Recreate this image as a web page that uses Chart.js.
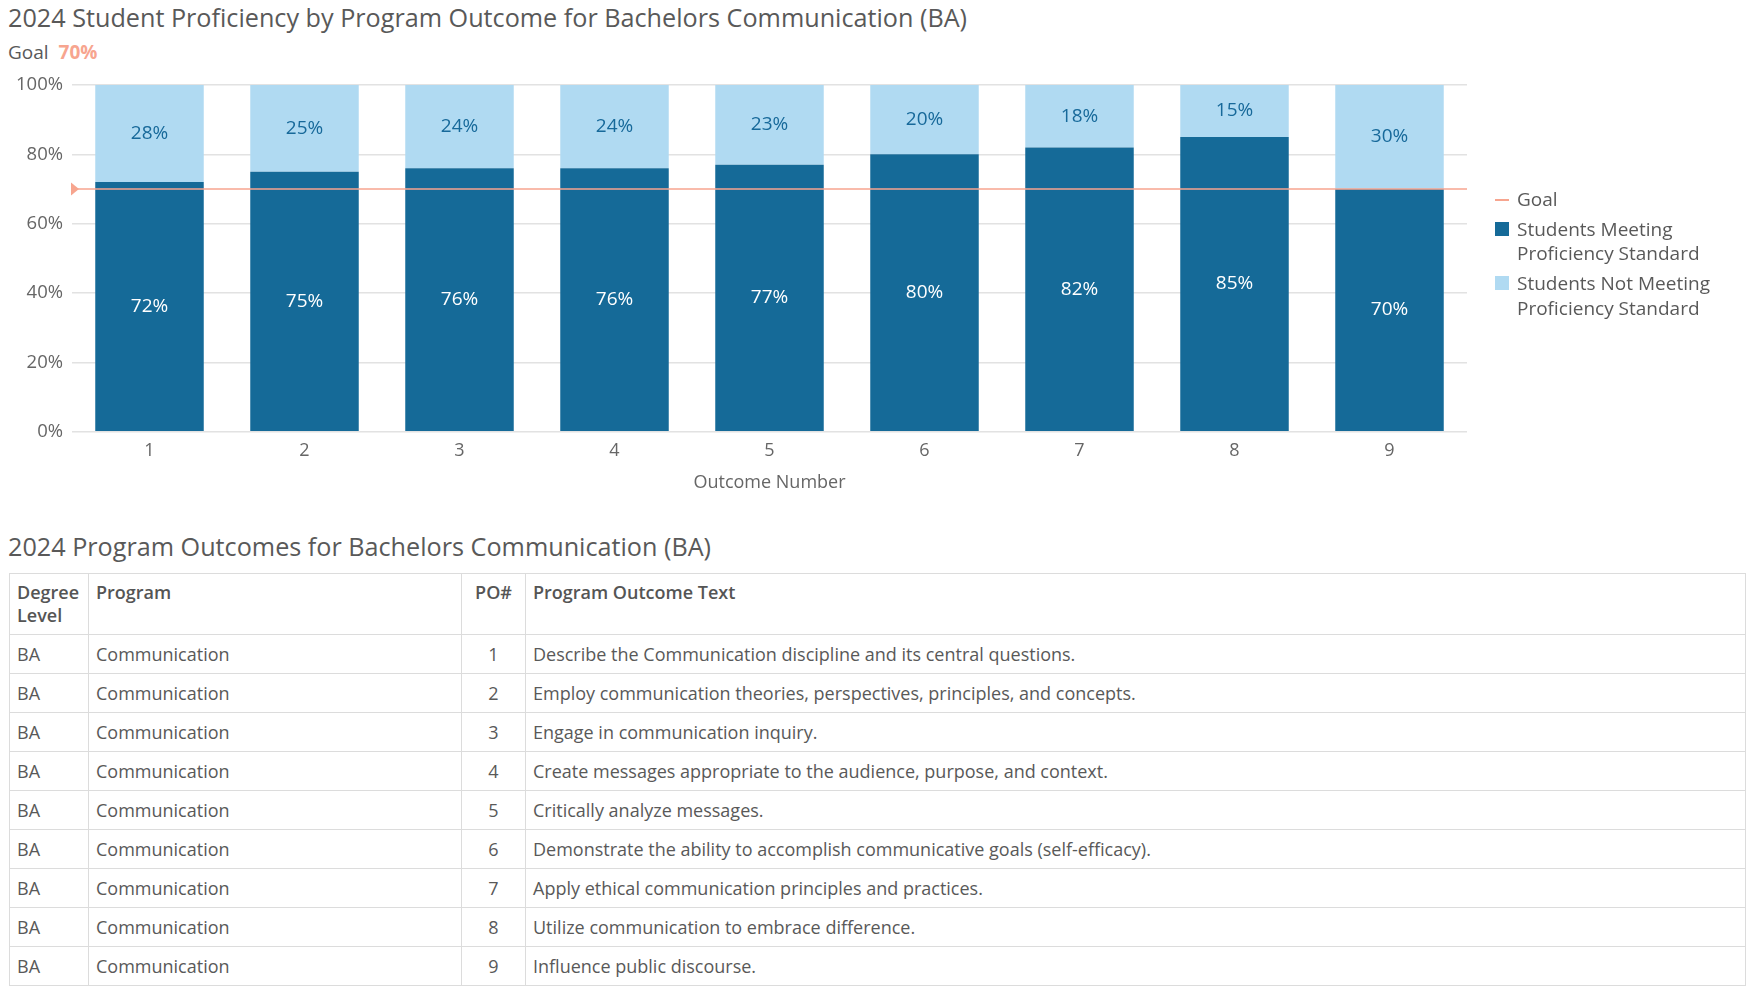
<!DOCTYPE html>
<html lang="en">
<head>
  <meta charset="UTF-8">
  <title>2024 Student Proficiency by Program Outcome</title>
  <style>
    body {
      margin: 0;
      width: 1749px;
      height: 995px;
      position: relative;
      overflow: hidden;
      background: #fff;
      color: #595959;
      font-family: "Open Sans", Arial, sans-serif;
    }
    .title {
      position: absolute;
      left: 8px;
      font-size: 25.2px;
      line-height: 32px;
      white-space: nowrap;
    }
    .goal {
      position: absolute;
      left: 8px;
      top: 40px;
      font-size: 19px;
      line-height: 24px;
    }
    .goal b {
      color: #f7a58f;
      margin-left: 10px;
    }
    #chartBox {
      position: absolute;
      left: 0;
      top: 64px;
      width: 1749px;
      height: 430px;
    }
    #legend {
      position: absolute;
      left: 1495px;
      top: 186.5px;
      font-size: 19px;
      line-height: 24.5px;
    }
    #legend .item {
      display: flex;
      align-items: flex-start;
      margin-bottom: 5.5px;
    }
    #legend .mark {
      width: 14px;
      height: 14px;
      margin: 5px 8px 0 0;
      flex: none;
    }
    #legend .line {
      height: 2px;
      margin-top: 12px;
    }
    #legend .text {
      max-width: 220px;
    }
    table {
      position: absolute;
      left: 9px;
      top: 573px;
      width: 1737px;
      border-collapse: collapse;
      table-layout: fixed;
      font-size: 18px;
    }
    th, td {
      border: 1.5px solid #dcdcdc;
      padding: 0 7px;
      text-align: left;
    }
    th {
      vertical-align: top;
      padding-top: 7px;
      height: 53px;
      line-height: 23px;
      font-weight: 600;
      color: #555;
    }
    td {
      height: 38px;
      line-height: 23px;
      vertical-align: middle;
    }
    .c { text-align: center; }
  </style>
</head>
<body>
  <div class="title" style="top:1px">2024 Student Proficiency by Program Outcome for Bachelors Communication (BA)</div>
  <div class="goal">Goal<b id="goalText"></b></div>
  <div id="chartBox"><canvas id="profChart"></canvas></div>
  <div id="legend"></div>

  <div class="title" style="top:530px">2024 Program Outcomes for Bachelors Communication (BA)</div>
  <table>
    <colgroup>
      <col style="width:79px"><col style="width:373px"><col style="width:64px"><col>
    </colgroup>
    <thead>
      <tr><th>Degree Level</th><th>Program</th><th class="c">PO#</th><th>Program Outcome Text</th></tr>
    </thead>
    <tbody id="outcomeRows"></tbody>
  </table>

  <script src="https://cdn.jsdelivr.net/npm/chart.js"></script>
  <script>
    // chart data
    const outcomeNumbers = ["1", "2", "3", "4", "5", "6", "7", "8", "9"];
    const meetingPct = [72, 75, 76, 76, 77, 80, 82, 85, 70];
    const notMeetingPct = [28, 25, 24, 24, 23, 20, 18, 15, 30];
    const goalPct = 70;

    // table data
    const degreeLevel = "BA";
    const programName = "Communication";
    const outcomeTexts = [
      "Describe the Communication discipline and its central questions.",
      "Employ communication theories, perspectives, principles, and concepts.",
      "Engage in communication inquiry.",
      "Create messages appropriate to the audience, purpose, and context.",
      "Critically analyze messages.",
      "Demonstrate the ability to accomplish communicative goals (self-efficacy).",
      "Apply ethical communication principles and practices.",
      "Utilize communication to embrace difference.",
      "Influence public discourse."
    ];

    const darkBlue = "#156a98";
    const lightBlue = "#b0daf2";
    const goalColor = "#f7a58f";
    const textGray = "#666";

    document.getElementById("goalText").textContent = goalPct + "%";

    // Goal line across the plot with a little arrow on the left
    const goalLine = {
      id: "goalLine",
      afterDatasetsDraw(chart) {
        const { ctx, chartArea, scales } = chart;
        const y = scales.y.getPixelForValue(goalPct);
        ctx.save();
        ctx.strokeStyle = goalColor;
        ctx.lineWidth = 1.5;
        ctx.beginPath();
        ctx.moveTo(chartArea.left, y);
        ctx.lineTo(chartArea.right, y);
        ctx.stroke();
        ctx.fillStyle = goalColor;
        ctx.beginPath();
        ctx.moveTo(chartArea.left - 1, y - 6.5);
        ctx.lineTo(chartArea.left + 7, y);
        ctx.lineTo(chartArea.left - 1, y + 6.5);
        ctx.closePath();
        ctx.fill();
        ctx.restore();
      }
    };

    // Percent labels in the middle of each segment
    const segLabels = {
      id: "segLabels",
      afterDatasetsDraw(chart) {
        const ctx = chart.ctx;
        ctx.save();
        ctx.font = "19px 'Open Sans', Arial, sans-serif";
        ctx.textAlign = "center";
        ctx.textBaseline = "middle";
        chart.data.datasets.forEach((ds, i) => {
          const meta = chart.getDatasetMeta(i);
          ctx.fillStyle = ds.labelColor;
          meta.data.forEach((bar, j) => {
            const p = bar.getProps(["x", "y", "base"], true);
            ctx.fillText(ds.data[j] + "%", p.x, (p.y + p.base) / 2);
          });
        });
        ctx.restore();
      }
    };

    const chart = new Chart(document.getElementById("profChart"), {
      type: "bar",
      data: {
        labels: outcomeNumbers,
        datasets: [
          {
            label: "Students Meeting Proficiency Standard",
            data: meetingPct,
            backgroundColor: darkBlue,
            labelColor: "#ffffff",
            categoryPercentage: 0.7,
            barPercentage: 1.0
          },
          {
            label: "Students Not Meeting Proficiency Standard",
            data: notMeetingPct,
            backgroundColor: lightBlue,
            labelColor: "#17699a",
            categoryPercentage: 0.7,
            barPercentage: 1.0
          }
        ]
      },
      options: {
        responsive: true,
        maintainAspectRatio: false,
        animation: false,
        layout: { padding: { top: 21, right: 282, left: 0, bottom: 0 } },
        plugins: {
          legend: { display: false },
          tooltip: { enabled: false }
        },
        scales: {
          x: {
            stacked: true,
            grid: { display: false, drawTicks: false },
            border: { display: false },
            ticks: { color: textGray, font: { size: 18, family: "'Open Sans'" }, padding: 8 },
            title: {
              display: true,
              text: "Outcome Number",
              color: textGray,
              font: { size: 18, family: "'Open Sans'" },
              padding: { top: 3, bottom: 0 }
            }
          },
          y: {
            stacked: true,
            min: 0,
            max: 100,
            border: { display: false },
            grid: { color: "#e2e2e2", lineWidth: 1.5, drawTicks: false },
            ticks: {
              stepSize: 20,
              color: textGray,
              font: { size: 18.5, family: "'Open Sans'" },
              padding: 9,
              callback: v => v + "%"
            },
            afterFit(scale) { scale.width = 72; }
          }
        }
      },
      plugins: [goalLine, segLabels]
    });

    // HTML legend so the long labels can wrap like the original
    function buildLegend() {
      const box = document.getElementById("legend");
      const items = [{ text: "Goal", color: goalColor, line: true }].concat(
        chart.data.datasets.map(ds => ({ text: ds.label, color: ds.backgroundColor }))
      );
      items.forEach(it => {
        const row = document.createElement("div");
        row.className = "item";
        const mark = document.createElement("span");
        mark.className = it.line ? "mark line" : "mark";
        mark.style.background = it.color;
        const txt = document.createElement("span");
        txt.className = "text";
        txt.textContent = it.text;
        row.appendChild(mark);
        row.appendChild(txt);
        box.appendChild(row);
      });
    }
    buildLegend();

    // Outcome table
    const body = document.getElementById("outcomeRows");
    outcomeTexts.forEach((t, i) => {
      const tr = document.createElement("tr");
      [degreeLevel, programName, outcomeNumbers[i], t].forEach((v, k) => {
        const td = document.createElement("td");
        td.textContent = v;
        if (k === 2) td.className = "c";
        tr.appendChild(td);
      });
      body.appendChild(tr);
    });
  </script>
</body>
</html>
